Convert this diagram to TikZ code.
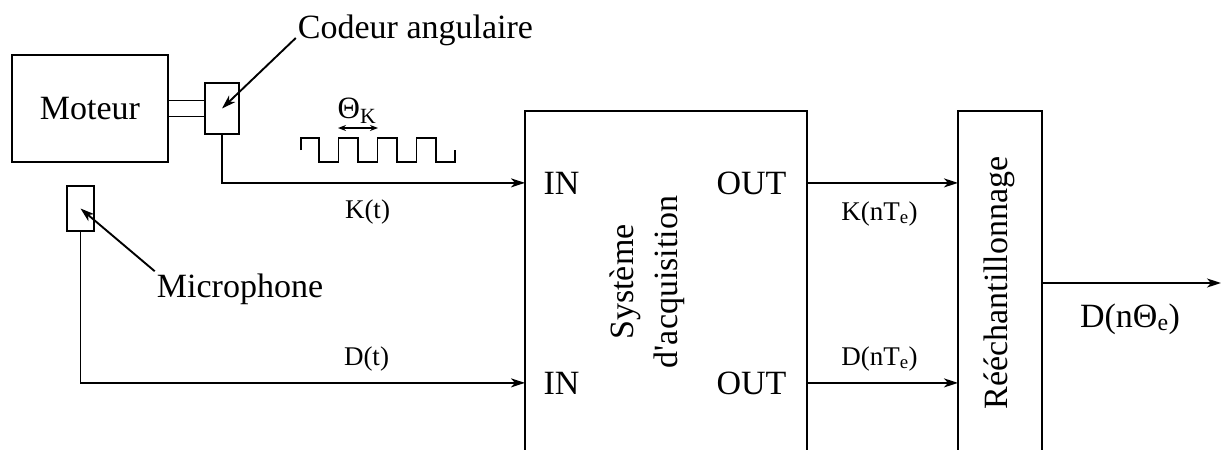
\documentclass[tikz,border=0pt]{standalone}
\usepackage{fontspec}
\setmainfont{Liberation Serif}
\usetikzlibrary{positioning,arrows.meta}

\begin{document}
\begin{tikzpicture}[
    x=1pt, y=-1pt,
    bloc/.style={draw, line width=1.9pt, inner sep=0pt, outer sep=0pt},
    grand/.style={font=\fontsize{34}{44}\selectfont, inner sep=2pt},
    petit/.style={font=\fontsize{27}{32}\selectfont, inner sep=2pt},
    fl/.style={-{Stealth[length=14pt, width=9pt, inset=4pt]}, line width=1.9pt},
    trait/.style={line width=1.9pt}
  ]
  \useasboundingbox (0,0) rectangle (1227,450);
  \clip (0,0) rectangle (1227,450);

  % moteur et codeur
  \node[bloc, grand, minimum width=156, minimum height=107] (moteur) at (90,108.5) {Moteur};
  \node[bloc, minimum width=37, minimum height=16, right=0pt of moteur] (arbre) {};
  \node[bloc, minimum width=34, minimum height=51, right=0pt of arbre] (codeur) {};
  \node[grand, anchor=base] (lcodeur) at (415.5,38) {Codeur angulaire};
  \draw[fl] (lcodeur.base west) -- (codeur.center);

  % microphone
  \node[bloc, minimum width=27, minimum height=45] (micro) at (80.5,208.5) {};
  \node[grand, anchor=base] (lmicro) at (240,297) {Microphone};
  \draw[fl] (lmicro.north west) -- (micro.center);

  % signal du codeur
  \draw[trait] (301,150) |- (319,138)
    foreach \i in {1,2,3} { -- ++(0,24) -- ++(19.5,0) -- ++(0,-24) -- ++(19.5,0) }
    -- ++(0,24) -- ++(19,0) -- ++(0,-12);
  \node[font=\fontsize{31}{36}\selectfont, anchor=base] (theta) at (357,118) {Θ\textsubscript{K}};
  \coordinate (debut) at (338,128);
  \coordinate (fin) at (378,128);
  \draw[{Stealth[length=8pt,width=6pt]}-{Stealth[length=8pt,width=6pt]}, line width=1.4pt] (debut) -- (fin);

  % acquisition
  \node[bloc, minimum width=282, minimum height=400, anchor=north west] (acq) at (525,111) {};
  \node[grand, rotate=90, align=center] (lacq) at (647,282) {Système\\d\textquotesingle acquisition};
  \node[grand, anchor=base] (inK) at (561.5,194) {IN};
  \node[grand, anchor=base] (inD) at (561.5,394) {IN};
  \node[grand, anchor=base] (outK) at (751.5,194) {OUT};
  \node[grand, anchor=base] (outD) at (751.5,394) {OUT};
  \draw[fl] (codeur.south) |- (acq.west |- inK);
  \draw[fl] (micro.south) |- (acq.west |- inD);
  \node[petit, anchor=base] (lK) at (367.5,218) {K(t)};
  \node[petit, anchor=base] (lD) at (366.5,365) {D(t)};

  % reechantillonnage
  \node[bloc, minimum width=84, minimum height=400, anchor=north west] (reech) at (958,111) {};
  \node[grand, rotate=90] (lreech) at (999,283) {Rééchantillonnage};
  \draw[fl] (acq.east |- outK) -- (reech.west |- outK);
  \draw[fl] (acq.east |- outD) -- (reech.west |- outD);
  \node[petit, anchor=base] (lKn) at (879.5,220) {K(nT\textsubscript{e})};
  \node[petit, anchor=base] (lDn) at (879.5,365) {D(nT\textsubscript{e})};

  \coordinate (sortie) at (1221,283);
  \draw[fl] (reech.east |- sortie) -- (sortie);
  \node[grand, anchor=base] (lsortie) at (1130,327) {D(nΘ\textsubscript{e})};
\end{tikzpicture}
\end{document}
